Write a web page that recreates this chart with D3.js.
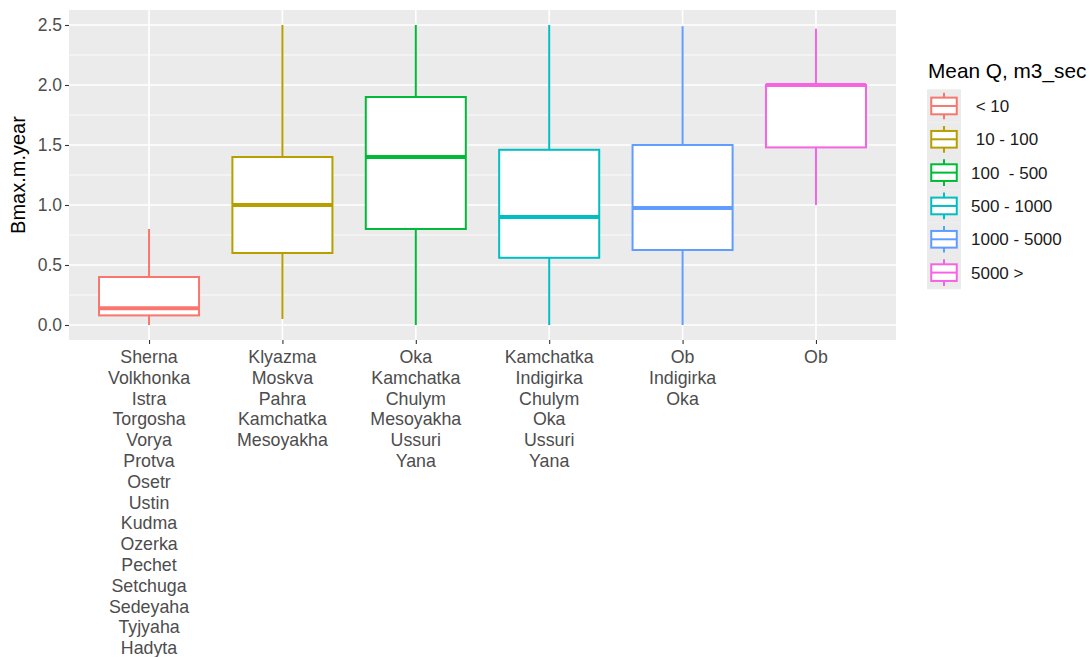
<!DOCTYPE html>
<html>
<head>
<meta charset="utf-8">
<script src="https://cdn.jsdelivr.net/npm/d3@7"></script>
<style>
  html, body { margin: 0; padding: 0; background: #ffffff; }
  svg { display: block; font-family: "Liberation Sans", Arial, sans-serif; }
</style>
</head>
<body>
<svg id="chart" width="1090" height="657"></svg>
<script>
// Discharge classes (legend entries, also the colour groups)
const groups = [" < 10", " 10 - 100", "100  - 500", "500 - 1000", "1000 - 5000", "5000 >"];
// Rivers belonging to each class, shown as stacked x tick labels
const rivers = [
  ["Sherna", "Volkhonka", "Istra", "Torgosha", "Vorya", "Protva", "Osetr", "Ustin", "Kudma", "Ozerka", "Pechet", "Setchuga", "Sedeyaha", "Tyjyaha", "Hadyta"],
  ["Klyazma", "Moskva", "Pahra", "Kamchatka", "Mesoyakha"],
  ["Oka", "Kamchatka", "Chulym", "Mesoyakha", "Ussuri", "Yana"],
  ["Kamchatka", "Indigirka", "Chulym", "Oka", "Ussuri", "Yana"],
  ["Ob", "Indigirka", "Oka"],
  ["Ob"]
];
// Box-plot statistics of Bmax.m.year per class
const whiskerLow  = [0.00, 0.05, 0.00, 0.00, 0.00, 1.00];
const hingeLow    = [0.08, 0.60, 0.80, 0.56, 0.625, 1.48];
const medians     = [0.14, 1.00, 1.40, 0.90, 0.975, 2.00];
const hingeHigh   = [0.40, 1.40, 1.90, 1.46, 1.50, 2.00];
const whiskerHigh = [0.80, 2.50, 2.50, 2.50, 2.49, 2.47];
// Axis breaks
const yMajor = [0, 0.5, 1.0, 1.5, 2.0, 2.5];
const yMinor = [0.25, 0.75, 1.25, 1.75, 2.25];
const colors = ["#F8766D", "#B79F00", "#00BA38", "#00BFC4", "#619CFF", "#F564E3"];

const panel = { left: 69, right: 896, top: 10, bottom: 340 };
const svg = d3.select("#chart");

const x = d3.scalePoint().domain(groups).range([panel.left, panel.right]).padding(0.6);
const y = d3.scaleLinear().domain([-0.125, 2.625]).range([panel.bottom, panel.top]);
const color = d3.scaleOrdinal().domain(groups).range(colors);
const boxW = x.step() * 0.75;

// Panel background and grid
svg.append("rect")
  .attr("x", panel.left).attr("y", panel.top)
  .attr("width", panel.right - panel.left).attr("height", panel.bottom - panel.top)
  .attr("fill", "#EBEBEB");

svg.append("g").selectAll("line").data(yMinor).join("line")
  .attr("x1", panel.left).attr("x2", panel.right)
  .attr("y1", d => y(d)).attr("y2", d => y(d))
  .attr("stroke", "#ffffff").attr("stroke-width", 0.8);
svg.append("g").selectAll("line").data(yMajor).join("line")
  .attr("x1", panel.left).attr("x2", panel.right)
  .attr("y1", d => y(d)).attr("y2", d => y(d))
  .attr("stroke", "#ffffff").attr("stroke-width", 1.6);
svg.append("g").selectAll("line").data(groups).join("line")
  .attr("x1", d => x(d)).attr("x2", d => x(d))
  .attr("y1", panel.top).attr("y2", panel.bottom)
  .attr("stroke", "#ffffff").attr("stroke-width", 1.6);

// Box plots
const stats = groups.map((g, i) => ({
  g, lo: whiskerLow[i], q1: hingeLow[i], med: medians[i], q3: hingeHigh[i], hi: whiskerHigh[i]
}));
const boxes = svg.append("g").selectAll("g").data(stats).join("g");
boxes.append("line")
  .attr("x1", d => x(d.g)).attr("x2", d => x(d.g))
  .attr("y1", d => y(d.q3)).attr("y2", d => y(d.hi))
  .attr("stroke", d => color(d.g)).attr("stroke-width", 2);
boxes.append("line")
  .attr("x1", d => x(d.g)).attr("x2", d => x(d.g))
  .attr("y1", d => y(d.q1)).attr("y2", d => y(d.lo))
  .attr("stroke", d => color(d.g)).attr("stroke-width", 2);
boxes.append("rect")
  .attr("x", d => x(d.g) - boxW / 2).attr("width", boxW)
  .attr("y", d => y(d.q3)).attr("height", d => y(d.q1) - y(d.q3))
  .attr("fill", "#ffffff").attr("stroke", d => color(d.g)).attr("stroke-width", 2);
boxes.append("line")
  .attr("x1", d => x(d.g) - boxW / 2).attr("x2", d => x(d.g) + boxW / 2)
  .attr("y1", d => y(d.med)).attr("y2", d => y(d.med))
  .attr("stroke", d => color(d.g)).attr("stroke-width", 4);

// Y axis
const yAxis = svg.append("g")
  .attr("transform", `translate(${panel.left},0)`)
  .call(d3.axisLeft(y).tickValues(yMajor).tickFormat(d3.format(".1f")).tickSize(4).tickPadding(3));
yAxis.select(".domain").remove();
yAxis.selectAll(".tick line").attr("stroke", "#333333").attr("stroke-width", 1.1);
yAxis.selectAll(".tick text")
  .attr("fill", "#4D4D4D").attr("font-size", 17.5)
  .attr("font-family", "'Liberation Sans', Arial, sans-serif");

// X axis with stacked river names
const xAxis = svg.append("g")
  .attr("transform", `translate(0,${panel.bottom})`)
  .call(d3.axisBottom(x).tickSize(4).tickFormat(""));
xAxis.select(".domain").remove();
xAxis.selectAll(".tick line").attr("stroke", "#333333").attr("stroke-width", 1.1);
const xl = svg.append("g").selectAll("text").data(groups).join("text")
  .attr("x", d => x(d)).attr("y", 363)
  .attr("text-anchor", "middle").attr("fill", "#4D4D4D").attr("font-size", 17.8);
xl.selectAll("tspan").data((d, i) => rivers[i]).join("tspan")
  .attr("x", function () { return this.parentNode.getAttribute("x"); })
  .attr("dy", (d, j) => j === 0 ? 0 : 20.8)
  .text(d => d);

// Y axis title
svg.append("text")
  .attr("transform", `translate(25,${(panel.top + panel.bottom) / 2}) rotate(-90)`)
  .attr("text-anchor", "middle").attr("fill", "#000000").attr("font-size", 20)
  .text("Bmax.m.year");

// Legend
const legend = svg.append("g");
legend.append("text")
  .attr("x", 928).attr("y", 78).attr("font-size", 20.8).attr("fill", "#000000")
  .text("Mean Q, m3_sec");
const keyH = 33.33, keyW = 34, keyX = 927, keyY = 89.3;
const keys = legend.selectAll("g.key").data(groups).join("g")
  .attr("class", "key")
  .attr("transform", (d, i) => `translate(${keyX},${keyY + i * keyH})`);
keys.append("rect").attr("width", keyW).attr("height", keyH).attr("fill", "#EBEBEB");
keys.append("line")
  .attr("x1", keyW / 2).attr("x2", keyW / 2).attr("y1", keyH * 0.1).attr("y2", keyH * 0.9)
  .attr("stroke", d => color(d)).attr("stroke-width", 2);
keys.append("rect")
  .attr("x", keyW * 0.125).attr("width", keyW * 0.75)
  .attr("y", keyH * 0.25).attr("height", keyH * 0.5)
  .attr("fill", "#ffffff").attr("stroke", d => color(d)).attr("stroke-width", 2);
keys.append("line")
  .attr("x1", keyW * 0.125).attr("x2", keyW * 0.875).attr("y1", keyH * 0.5).attr("y2", keyH * 0.5)
  .attr("stroke", d => color(d)).attr("stroke-width", 2);
keys.append("text")
  .attr("x", 44).attr("y", keyH / 2 + 6)
  .attr("font-size", 17).attr("fill", "#1A1A1A")
  .style("white-space", "pre")
  .text(d => d);
</script>
</body>
</html>
